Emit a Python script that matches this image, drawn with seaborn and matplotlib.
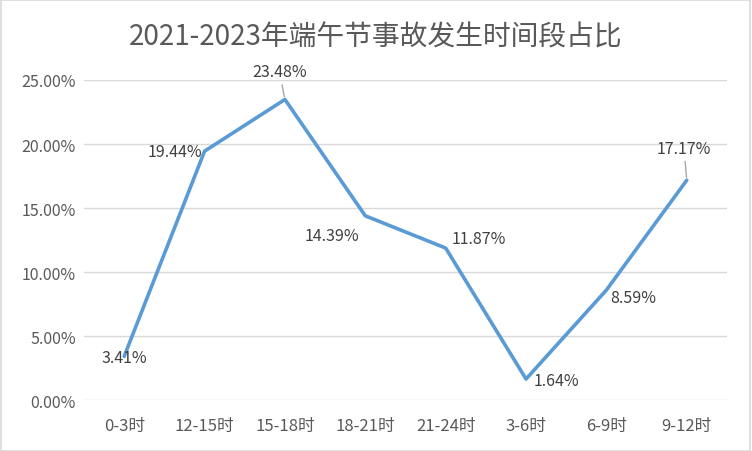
import matplotlib
matplotlib.use("Agg")
import matplotlib.pyplot as plt
import seaborn as sns
import pandas as pd
from matplotlib.ticker import FuncFormatter
from matplotlib.patches import Rectangle

periods = ["0-3时", "12-15时", "15-18时", "18-21时", "21-24时", "3-6时", "6-9时", "9-12时"]
shares = [3.41, 19.44, 23.48, 14.39, 11.87, 1.64, 8.59, 17.17]
yticks = [0, 5, 10, 15, 20, 25]

sns.set_style("white")
plt.rcParams["font.family"] = ["Noto Sans CJK SC", "DejaVu Sans"]

df = pd.DataFrame({"period": periods, "share": shares})

fig = plt.figure(figsize=(7.52, 4.52), dpi=100)
ax = fig.add_axes([0.1117, 0.1128, 0.855, 0.708])

sns.lineplot(data=df, x="period", y="share", ax=ax, color="#5B9BD5",
             linewidth=2.6, sort=False)

ax.set_xlim(-0.5, len(periods) - 0.5)
ax.set_ylim(0, 25)
ax.set_yticks(yticks)
ax.yaxis.set_major_formatter(FuncFormatter(lambda v, p: f"{v:.2f}%"))
ax.grid(axis="y", color="#D9D9D9", linewidth=1)
ax.set_axisbelow(True)
for s in ax.spines.values():
    s.set_visible(False)
ax.tick_params(axis="x", length=0, labelsize=12, labelcolor="#595959", pad=12)
ax.tick_params(axis="y", length=0, labelsize=11.5, labelcolor="#595959", pad=6)
ax.set_xlabel("")
ax.set_ylabel("")

# label offsets (points) relative to the data point
offsets = [(0, -1), (-21, 0), (-4, 20), (-24, -14), (24, 7), (22, -1), (19, -5), (-2, 23)]
leaders = [False, False, True, False, False, False, False, True]
for i, (v, off, lead) in enumerate(zip(shares, offsets, leaders)):
    ax.annotate(f"{v:.2f}%", xy=(i, v), xytext=off, textcoords="offset points",
                ha="center", va="center", fontsize=11.5, color="#404040",
                arrowprops=dict(arrowstyle="-", color="#A6A6A6", lw=1,
                                shrinkA=1, shrinkB=2) if lead else None)

fig.text(0.5, 0.916, "2021-2023年端午节事故发生时间段占比", ha="center", va="center",
         fontsize=20, color="#595959")

fig.patches.append(Rectangle((0.001, 0.001), 0.997, 0.996, transform=fig.transFigure,
                             fill=False, edgecolor="#D9D9D9", linewidth=1.2))

fig.savefig("out.png", dpi=100)
plt.close(fig)
